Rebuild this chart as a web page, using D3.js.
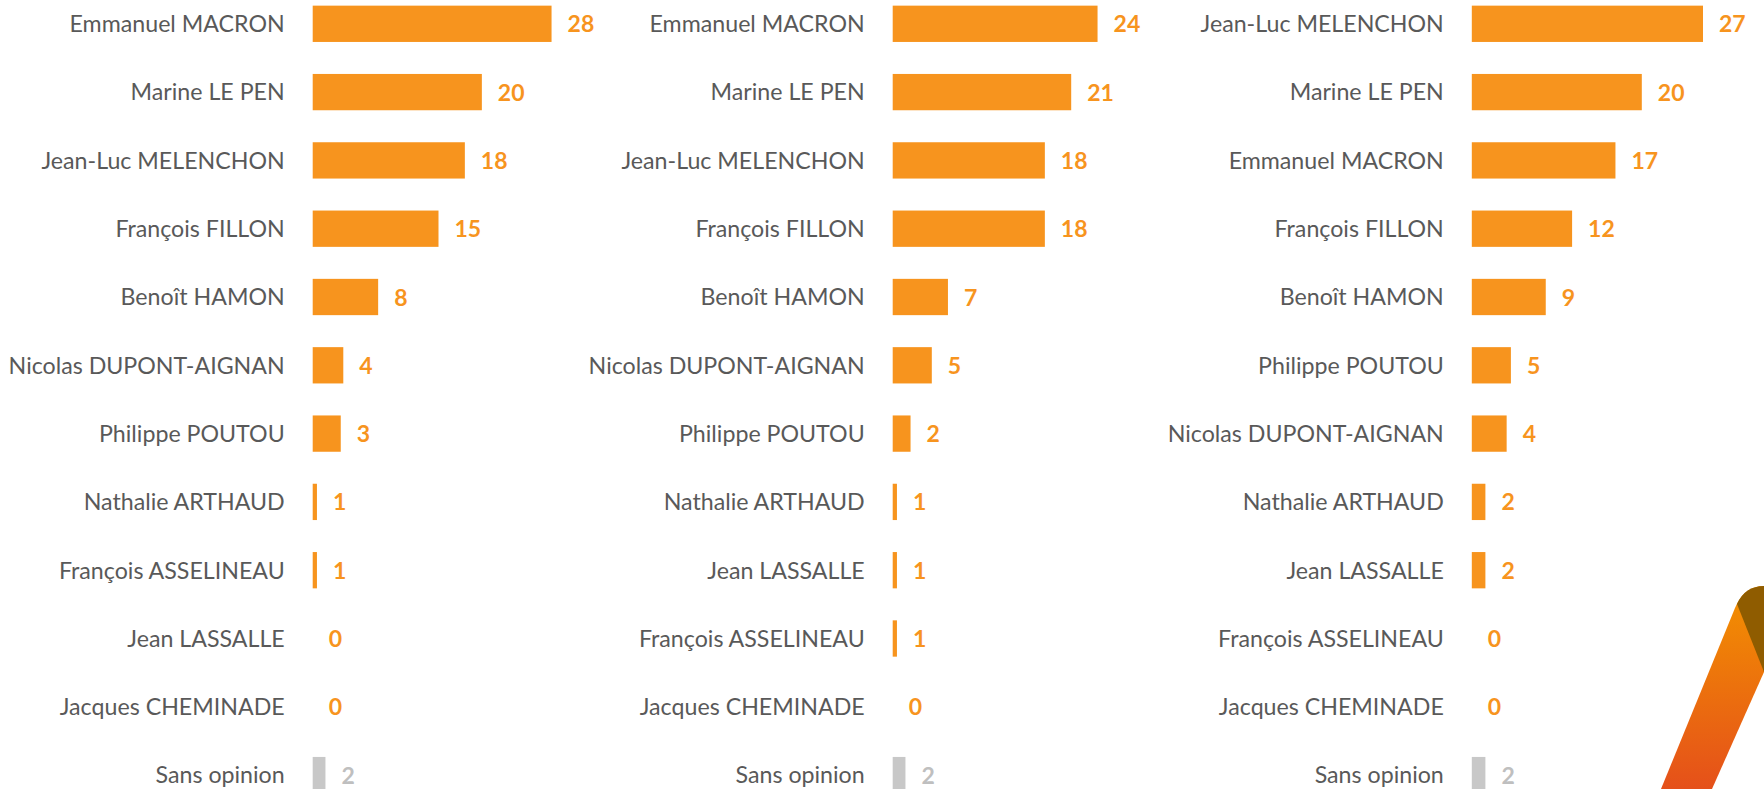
<!DOCTYPE html>
<html>
<head>
<meta charset="utf-8">
<script src="https://cdn.jsdelivr.net/npm/d3@7"></script>
<style>
  html, body { margin: 0; padding: 0; background: #fff; }
  svg { display: block; font-family: Lato, "Open Sans", sans-serif; }
</style>
</head>
<body>
<div id="chart"></div>
<script>
/* three panels of voting intentions, horizontal bars, values labelled to the right */

// panel 1
const names1 = ["Emmanuel MACRON", "Marine LE PEN", "Jean-Luc MELENCHON", "François FILLON",
  "Benoît HAMON", "Nicolas DUPONT-AIGNAN", "Philippe POUTOU", "Nathalie ARTHAUD",
  "François ASSELINEAU", "Jean LASSALLE", "Jacques CHEMINADE", "Sans opinion"];
const values1 = [28.1, 19.9, 17.9, 14.8, 7.7, 3.6, 3.3, 0.5, 0.5, 0, 0, 1.5];

// panel 2
const names2 = ["Emmanuel MACRON", "Marine LE PEN", "Jean-Luc MELENCHON", "François FILLON",
  "Benoît HAMON", "Nicolas DUPONT-AIGNAN", "Philippe POUTOU", "Nathalie ARTHAUD",
  "Jean LASSALLE", "François ASSELINEAU", "Jacques CHEMINADE", "Sans opinion"];
const values2 = [24.1, 21.0, 17.9, 17.9, 6.5, 4.6, 2.1, 0.5, 0.5, 0.5, 0, 1.5];

// panel 3
const names3 = ["Jean-Luc MELENCHON", "Marine LE PEN", "Emmanuel MACRON", "François FILLON",
  "Benoît HAMON", "Philippe POUTOU", "Nicolas DUPONT-AIGNAN", "Nathalie ARTHAUD",
  "Jean LASSALLE", "François ASSELINEAU", "Jacques CHEMINADE", "Sans opinion"];
const values3 = [27.2, 20.0, 16.9, 11.8, 8.7, 4.6, 4.1, 1.6, 1.6, 0, 0, 1.6];

const W = 1764, H = 789;
const ORANGE = "#F7941E", GREY_BAR = "#C8C8C8", GREY_VAL = "#BFBFBF", INK = "#595959";

const svg = d3.select("#chart").append("svg").attr("width", W).attr("height", H);

const x = d3.scaleLinear().domain([0, 30]).range([0, 255]);
const fmt = d3.format(".0f");
const barH = 36.3;

function panel(names, values, left) {
  const y = d3.scalePoint().domain(names).range([23.8, 775.1]);
  const data = names.map((n, i) => ({ n, v: values[i], none: n === "Sans opinion" }));
  const g = svg.append("g").attr("transform", `translate(${left},0)`);

  g.selectAll("rect.bar").data(data).join("rect").attr("class", "bar")
    .attr("x", 0).attr("y", (d) => y(d.n) - barH / 2)
    .attr("width", (d) => x(d.v)).attr("height", barH)
    .attr("fill", (d) => d.none ? GREY_BAR : ORANGE);

  g.selectAll("text.name").data(data).join("text").attr("class", "name")
    .attr("x", -28).attr("y", (d) => y(d.n)).attr("dy", "0.36em")
    .attr("text-anchor", "end").attr("font-size", 23.2).attr("fill", INK)
    .text((d) => d.n);

  g.selectAll("text.val").data(data).join("text").attr("class", "val")
    .attr("x", (d) => x(d.v) + 16).attr("y", (d) => y(d.n)).attr("dy", "0.37em")
    .attr("font-size", 23).attr("font-weight", 700)
    .attr("fill", (d) => d.none ? GREY_VAL : ORANGE)
    .text((d) => fmt(d.v));
}

panel(names1, values1, 312.7);
panel(names2, values2, 892.7);
panel(names3, values3, 1471.8);

// logo corner, bottom right
const defs = svg.append("defs");
const grad = defs.append("linearGradient").attr("id", "ribbon")
  .attr("x1", 0).attr("y1", 0).attr("x2", 0).attr("y2", 1);
grad.append("stop").attr("offset", "0%").attr("stop-color", "#F39200");
grad.append("stop").attr("offset", "100%").attr("stop-color", "#E5501A");

svg.append("path")
  .attr("d", "M1661,789 L1735,608 Q1744,586 1764,586 L1764,672 L1712,789 Z")
  .attr("fill", "url(#ribbon)");
svg.append("path")
  .attr("d", "M1737,604 Q1745,586 1764,586 L1764,672 Z")
  .attr("fill", "#8F5C00");
</script>
</body>
</html>
